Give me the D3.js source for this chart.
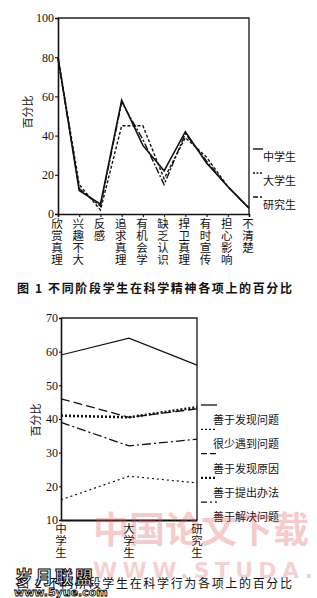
<!DOCTYPE html>
<html>
<head>
<meta charset="utf-8">
<script src="https://cdnjs.cloudflare.com/ajax/libs/d3/7.8.5/d3.min.js"></script>
<style>
  body { margin: 0; background: #fff; }
  svg { display: block; }
  .tick text { font-family: "Liberation Serif", serif; font-size: 12px; fill: #111; }
  .zh { font-family: "Noto Sans CJK SC", sans-serif; fill: #111; }
</style>
</head>
<body>
<script>
// figure 1 data
var items1 = ["欣赏真理", "兴趣不大", "反感", "追求真理", "有机会学", "缺乏认识", "捍卫真理", "有时宣传", "担心影响", "不清楚"];
var middle = [80, 12, 5, 58, 35, 22, 42, 26, 14, 3];
var college = [80, 15, 2, 45, 45, 18, 39, 29, 14, 3];
var graduate = [79, 13, 4, 57, 38, 15, 41, 27, 14, 3];
var yTicks1 = [0, 20, 40, 60, 80, 100];
var series1 = ["中学生", "大学生", "研究生"];

// figure 2 data
var stages = ["中学生", "大学生", "研究生"];
var findProblem = [59, 64, 56];
var fewProblem = [16, 23, 21];
var findCause = [46, 40.5, 43];
var proposeWay = [41, 40.5, 43.5];
var solveProblem = [39, 32, 34];
var yTicks2 = [10, 20, 30, 40, 50, 60, 70];
var series2 = ["善于发现问题", "很少遇到问题", "善于发现原因", "善于提出办法", "善于解决问题"];

var svg = d3.select("body").append("svg")
  .attr("width", 317)
  .attr("height", 598);

var line = d3.line();

// ---------- figure 1 ----------
var x1 = d3.scalePoint().domain(items1).range([58, 249]);
var y1 = d3.scaleLinear().domain([0, 100]).range([214, 18]);

var g1 = svg.append("g");

// frame
g1.append("path")
  .attr("d", line([[x1.range()[0], y1(100)], [x1.range()[1], y1(100)], [x1.range()[1], y1(0)]]))
  .attr("fill", "none").attr("stroke", "#222").attr("stroke-width", 1.4);

var ya1 = g1.append("g").attr("transform", "translate(58,0)")
  .call(d3.axisLeft(y1).tickValues(yTicks1).tickSize(3).tickPadding(1));
ya1.select(".domain").attr("stroke-width", 1.6).attr("stroke", "#111");

var xa1 = g1.append("g").attr("transform", "translate(0,214)")
  .call(d3.axisBottom(x1).tickSize(3).tickFormat(""));
xa1.select(".domain").attr("stroke-width", 1.6).attr("stroke", "#111");

// vertical category labels
items1.forEach(function(c) {
  c.split("").forEach(function(ch, i) {
    g1.append("text").attr("class", "zh")
      .attr("x", x1(c) - 1).attr("y", 228 + i * 12)
      .attr("text-anchor", "middle")
      .style("font-size", "11.5px")
      .text(ch);
  });
});

g1.append("text").attr("class", "zh")
  .attr("transform", "translate(32,112) rotate(-90)")
  .attr("text-anchor", "middle")
  .style("font-size", "11px")
  .text("百分比");

var styles1 = [
  {data: middle, dash: null, w: 1.6},
  {data: college, dash: "3,2", w: 1.4},
  {data: graduate, dash: "7,2,2,2", w: 1.4}
];
styles1.forEach(function(s) {
  g1.append("path")
    .attr("d", line(items1.map(function(c, i) { return [x1(c), y1(s.data[i])]; })))
    .attr("fill", "none").attr("stroke", "#111")
    .attr("stroke-width", s.w)
    .attr("stroke-dasharray", s.dash);
});

// legend 1
styles1.forEach(function(s, i) {
  var yy = 149 + i * 24;
  g1.append("line").attr("x1", 253).attr("x2", 263).attr("y1", yy).attr("y2", yy)
    .attr("stroke", "#111").attr("stroke-width", 1.4).attr("stroke-dasharray", s.dash ? (i == 1 ? "2,1.5" : "5,2,2,2") : null);
  g1.append("text").attr("class", "zh")
    .attr("x", 263).attr("y", yy + 12)
    .style("font-size", "11px")
    .text(series1[i]);
});

svg.append("text").attr("class", "zh")
  .attr("x", 17).attr("y", 293)
  .attr("textLength", 275).attr("lengthAdjust", "spacing")
  .style("font-size", "12px").style("font-weight", "bold")
  .text("图 1  不同阶段学生在科学精神各项上的百分比");

// ---------- figure 2 ----------
var x2 = d3.scalePoint().domain(stages).range([61, 197]);
var y2 = d3.scaleLinear().domain([10, 70]).range([520, 318]);

var g2 = svg.append("g");

g2.append("path")
  .attr("d", line([[x2.range()[0], y2(70)], [x2.range()[1], y2(70)], [x2.range()[1], y2(10)]]))
  .attr("fill", "none").attr("stroke", "#222").attr("stroke-width", 1.4);

var ya2 = g2.append("g").attr("transform", "translate(61,0)")
  .call(d3.axisLeft(y2).tickValues(yTicks2).tickSize(2).tickPadding(1));
ya2.select(".domain").attr("stroke-width", 1.6).attr("stroke", "#111");

var xa2 = g2.append("g").attr("transform", "translate(0,520)")
  .call(d3.axisBottom(x2).tickSize(0).tickFormat(""));
xa2.select(".domain").attr("stroke-width", 2).attr("stroke", "#111");

// watermark (drawn under the labels)
svg.append("text")
  .attr("x", 93).attr("y", 543)
  .style("font-family", "Noto Sans CJK SC").style("font-weight", "bold")
  .style("font-size", "36px").attr("fill", "rgba(225,90,90,0.33)")
  .text("中国论文下载");
svg.append("text")
  .attr("x", 93).attr("y", 578)
  .attr("textLength", 220).attr("lengthAdjust", "spacing")
  .style("font-family", "DejaVu Sans").style("font-weight", "bold")
  .style("font-size", "22px")
  .attr("fill", "rgba(225,90,90,0.28)")
  .text("WWW.STUDA.");

stages.forEach(function(c) {
  c.split("").forEach(function(ch, i) {
    g2.append("text").attr("class", "zh")
      .attr("x", x2(c)).attr("y", 533 + i * 12)
      .attr("text-anchor", "middle")
      .style("font-size", "11.5px")
      .text(ch);
  });
});

g2.append("text").attr("class", "zh")
  .attr("transform", "translate(40,420) rotate(-90)")
  .attr("text-anchor", "middle")
  .style("font-size", "11px")
  .text("百分比");

var styles2 = [
  {data: findProblem, dash: null, w: 1.2, leg: null},
  {data: fewProblem, dash: "2,3", w: 1.2, leg: "2,2"},
  {data: findCause, dash: "9,4", w: 1.3, leg: "6,3"},
  {data: proposeWay, dash: "2,2", w: 2.6, leg: "2,2"},
  {data: solveProblem, dash: "9,3,2,3", w: 1.3, leg: "6,3,2,3"}
];
styles2.forEach(function(s) {
  g2.append("path")
    .attr("d", line(stages.map(function(c, i) { return [x2(c), y2(s.data[i])]; })))
    .attr("fill", "none").attr("stroke", "#111")
    .attr("stroke-width", s.w)
    .attr("stroke-dasharray", s.dash);
});

styles2.forEach(function(s, i) {
  var yy = 405 + i * 24.3;
  g2.append("line").attr("x1", 201).attr("x2", 217).attr("y1", yy).attr("y2", yy)
    .attr("stroke", "#111").attr("stroke-width", i == 3 ? 2.4 : 1.3).attr("stroke-dasharray", s.leg);
  g2.append("text").attr("class", "zh")
    .attr("x", 213).attr("y", yy + 19)
    .style("font-size", "11px")
    .text(series2[i]);
});

svg.append("text").attr("class", "zh")
  .attr("x", 17).attr("y", 588)
  .attr("textLength", 275).attr("lengthAdjust", "spacing")
  .style("font-size", "12px")
  .text("图 2  不同阶段学生在科学行为各项上的百分比");

svg.append("text")
  .attr("x", 15).attr("y", 584)
  .style("font-family", "Noto Sans CJK SC").style("font-weight", "bold")
  .style("font-size", "18px").style("letter-spacing", "2px")
  .attr("fill", "#fff").attr("stroke", "#000").attr("stroke-width", 1)
  .text("岁月联盟");
svg.append("text")
  .attr("x", 14).attr("y", 596)
  .style("font-family", "DejaVu Sans").style("font-weight", "bold")
  .style("font-size", "11px")
  .attr("fill", "#fff").attr("stroke", "#000").attr("stroke-width", 0.8)
  .text("www.5yue.com");
</script>
</body>
</html>
